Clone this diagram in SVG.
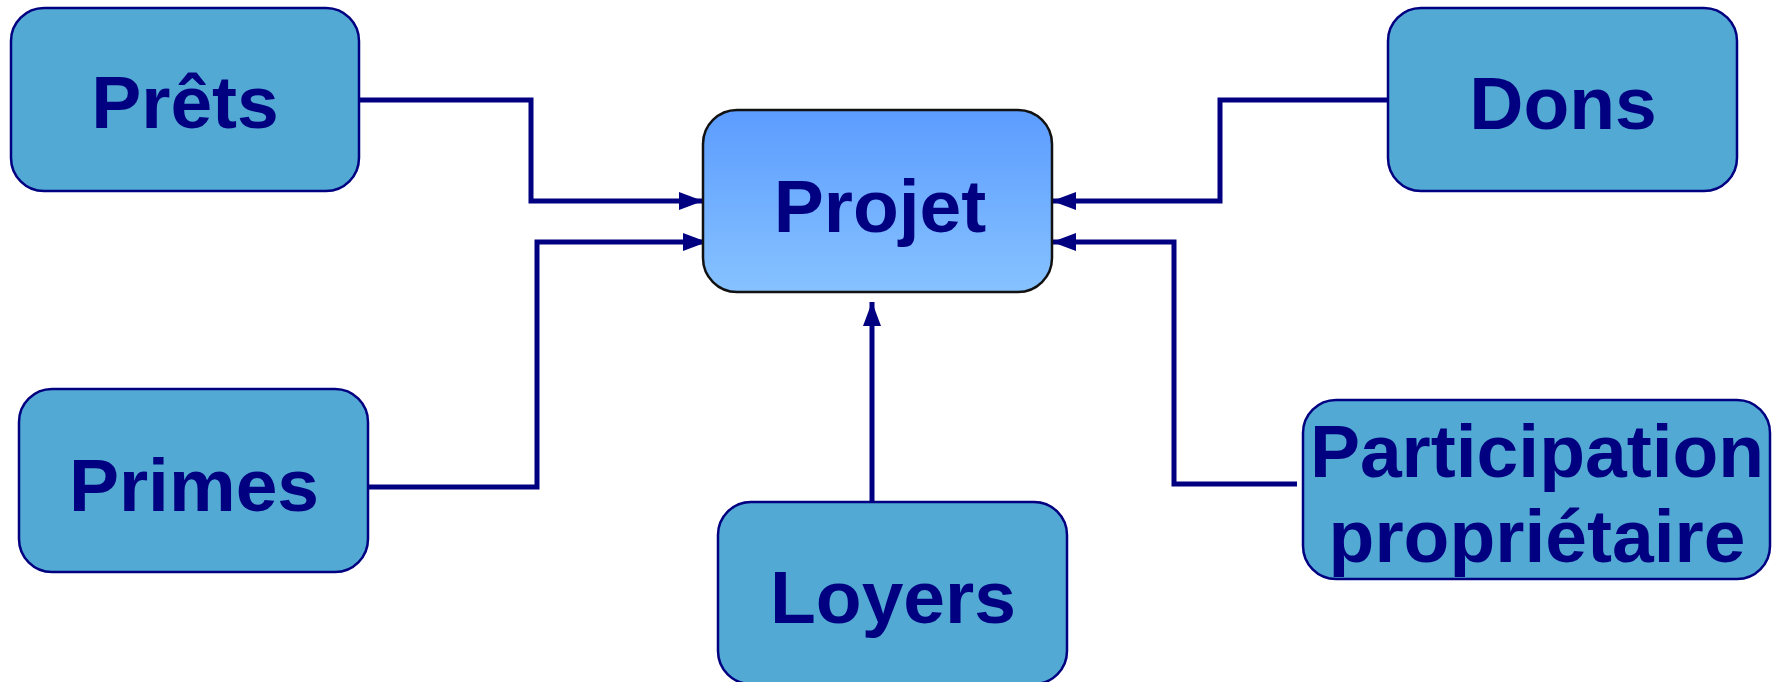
<svg xmlns="http://www.w3.org/2000/svg" width="1779" height="682" viewBox="0 0 1779 682">
<defs>
<linearGradient id="pg" x1="0" y1="0" x2="0" y2="1">
<stop offset="0" stop-color="#5C9CFF"/>
<stop offset="1" stop-color="#86C2FF"/>
</linearGradient>
<marker id="ah" viewBox="0 0 24 18" refX="24" refY="9" markerWidth="24" markerHeight="18" markerUnits="userSpaceOnUse" orient="auto">
<path d="M0,0 L24,9 L0,18 Z" fill="#000080"/>
</marker>
<style>
.box{fill:#52A9D3;stroke:#000080;stroke-width:2.5}
.proj{fill:url(#pg);stroke:#111;stroke-width:2.5}
.t{font-family:"Liberation Sans",Arial,sans-serif;font-weight:bold;font-size:75px;fill:#000080;text-anchor:middle}
.c{fill:none;stroke:#000080;stroke-width:5;marker-end:url(#ah)}
</style>
</defs>
<rect width="1779" height="682" fill="#fff"/>
<g id="connectors">
<path class="c" d="M359,100 H531 V201 H703"/>
<path class="c" d="M368,487 H537 V242 H707"/>
<path class="c" d="M1388,100 H1220 V201 H1052"/>
<path class="c" d="M1297,484 H1174 V242 H1052"/>
<path class="c" d="M872,502 V302"/>
</g>
<g id="prets">
<rect class="box" x="11" y="8" width="348" height="183" rx="33"/>
<text class="t" x="185" y="128">Prêts</text>
</g>
<g id="dons">
<rect class="box" x="1388" y="8" width="349" height="183" rx="33"/>
<text class="t" x="1563" y="129">Dons</text>
</g>
<g id="projet">
<rect class="proj" x="703" y="110" width="349" height="182" rx="34"/>
<text class="t" x="880" y="232">Projet</text>
</g>
<g id="primes">
<rect class="box" x="19" y="389" width="349" height="183" rx="33"/>
<text class="t" x="194" y="511">Primes</text>
</g>
<g id="loyers">
<rect class="box" x="718" y="502" width="349" height="182" rx="33"/>
<text class="t" x="893" y="623">Loyers</text>
</g>
<g id="participation">
<rect class="box" x="1303" y="400" width="467" height="179" rx="33"/>
<text class="t" x="1537" y="477">Participation</text>
<text class="t" x="1537" y="562">propriétaire</text>
</g>
</svg>
